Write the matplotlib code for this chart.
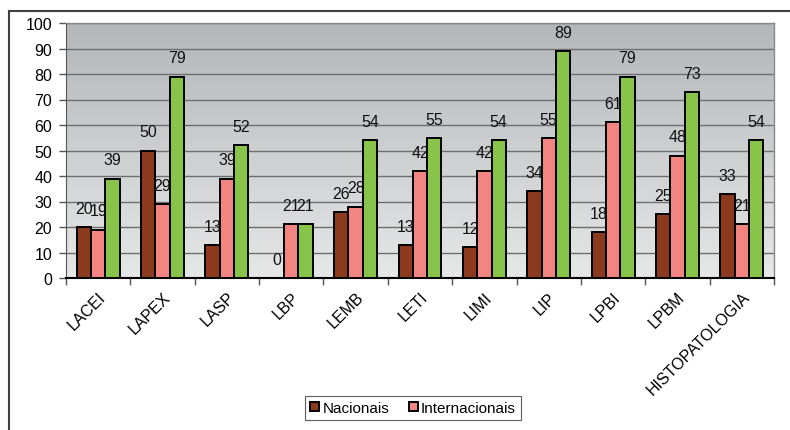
import matplotlib
matplotlib.use("Agg")
import matplotlib.pyplot as plt
import numpy as np
from matplotlib.lines import Line2D

categories = ["LACEI", "LAPEX", "LASP", "LBP", "LEMB", "LETI", "LIMI", "LIP", "LPBI", "LPBM", "HISTOPATOLOGIA"]
nacionais = [20, 50, 13, 0, 26, 13, 12, 34, 18, 25, 33]
internacionais = [19, 29, 39, 21, 28, 42, 42, 55, 61, 48, 21]
total = [39, 79, 52, 21, 54, 55, 54, 89, 79, 73, 54]
yticks = list(range(0, 101, 10))

plt.rcParams['font.family'] = ['Liberation Sans', 'DejaVu Sans']

fig = plt.figure(figsize=(7.9, 4.31), dpi=100)
W, H = 790, 431
ax = fig.add_axes([66 / W, 1 - 279 / H, (774 - 66) / W, (279 - 24) / H])

n = len(categories)
x = np.arange(n)
bw = 0.222
FS = 11.5

# gradient background
grad = np.linspace(0, 1, 256).reshape(-1, 1)
top = np.array([179, 183, 186]) / 255
bot = np.array([230, 231, 231]) / 255
img = top + (bot - top) * grad[:, :, None] * np.ones((1, 1, 3))
ax.imshow(img, extent=[-0.5, n - 0.5, 0, 100], aspect='auto', zorder=0, origin='upper')

ax.set_xlim(-0.5, n - 0.5)
ax.set_ylim(0, 100)
ax.set_yticks(yticks)
ax.yaxis.grid(True, color='#6f6f6f', linewidth=1, zorder=1)
ax.set_axisbelow(True)

colors = ['#8B3A1E', '#F28482', '#88C34A']
series = [nacionais, internacionais, total]
labels = ['Nacionais', 'Internacionais', None]
bars_all = []
for i, (vals, c, lab) in enumerate(zip(series, colors, labels)):
    bars = ax.bar(x + (i - 1) * bw, vals, width=bw, color=c, edgecolor='black',
                  linewidth=1.4, zorder=3, label=lab if lab else '_nolegend_')
    bars_all.append(bars)
    for b, v in zip(bars, vals):
        ax.annotate(str(v), (b.get_x() + b.get_width() / 2, v), xytext=(0, 8),
                    textcoords='offset points', ha='center', va='bottom',
                    fontsize=FS, color='#111111', zorder=4)

# category ticks between groups
ax.set_xticks(np.arange(-0.5, n, 1.0), minor=False)
ax.set_xticklabels([])
ax.set_xticks(x, minor=True)
ax.set_xticklabels(categories, minor=True, rotation=45, ha='right',
                   rotation_mode='anchor', fontsize=FS)
ax.tick_params(axis='x', which='minor', length=0, pad=8)
ax.tick_params(axis='x', which='major', length=5, color='#555555', width=1)
ax.tick_params(axis='y', length=5, color='#555555', width=1, labelsize=FS, pad=5)

for s in ['top', 'right']:
    ax.spines[s].set_color('#8a8a8a')
    ax.spines[s].set_linewidth(1)
ax.spines['left'].set_color('#555555')
ax.spines['bottom'].set_color('black')
ax.spines['bottom'].set_linewidth(1.5)

leg = fig.legend(handles=[bars_all[0], bars_all[1]], labels=['Nacionais', 'Internacionais'],
                 loc='center', bbox_to_anchor=(413 / W, 1 - 409 / H), ncol=2,
                 frameon=True, fancybox=False, shadow=False, fontsize=11,
                 handlelength=0.6, handleheight=0.6, handletextpad=0.2,
                 columnspacing=1.3, borderpad=0.3, edgecolor='#333333')
leg.get_frame().set_linewidth(0.8)

# outer frame lines
fig.add_artist(Line2D([9 / W, 9 / W], [0, 1 - 12 / H], color='#404040', linewidth=1.5,
                      transform=fig.transFigure))
fig.add_artist(Line2D([9 / W, 1], [1 - 12 / H, 1 - 12 / H], color='#404040', linewidth=1.5,
                      transform=fig.transFigure))

fig.savefig('out.png', dpi=100)
